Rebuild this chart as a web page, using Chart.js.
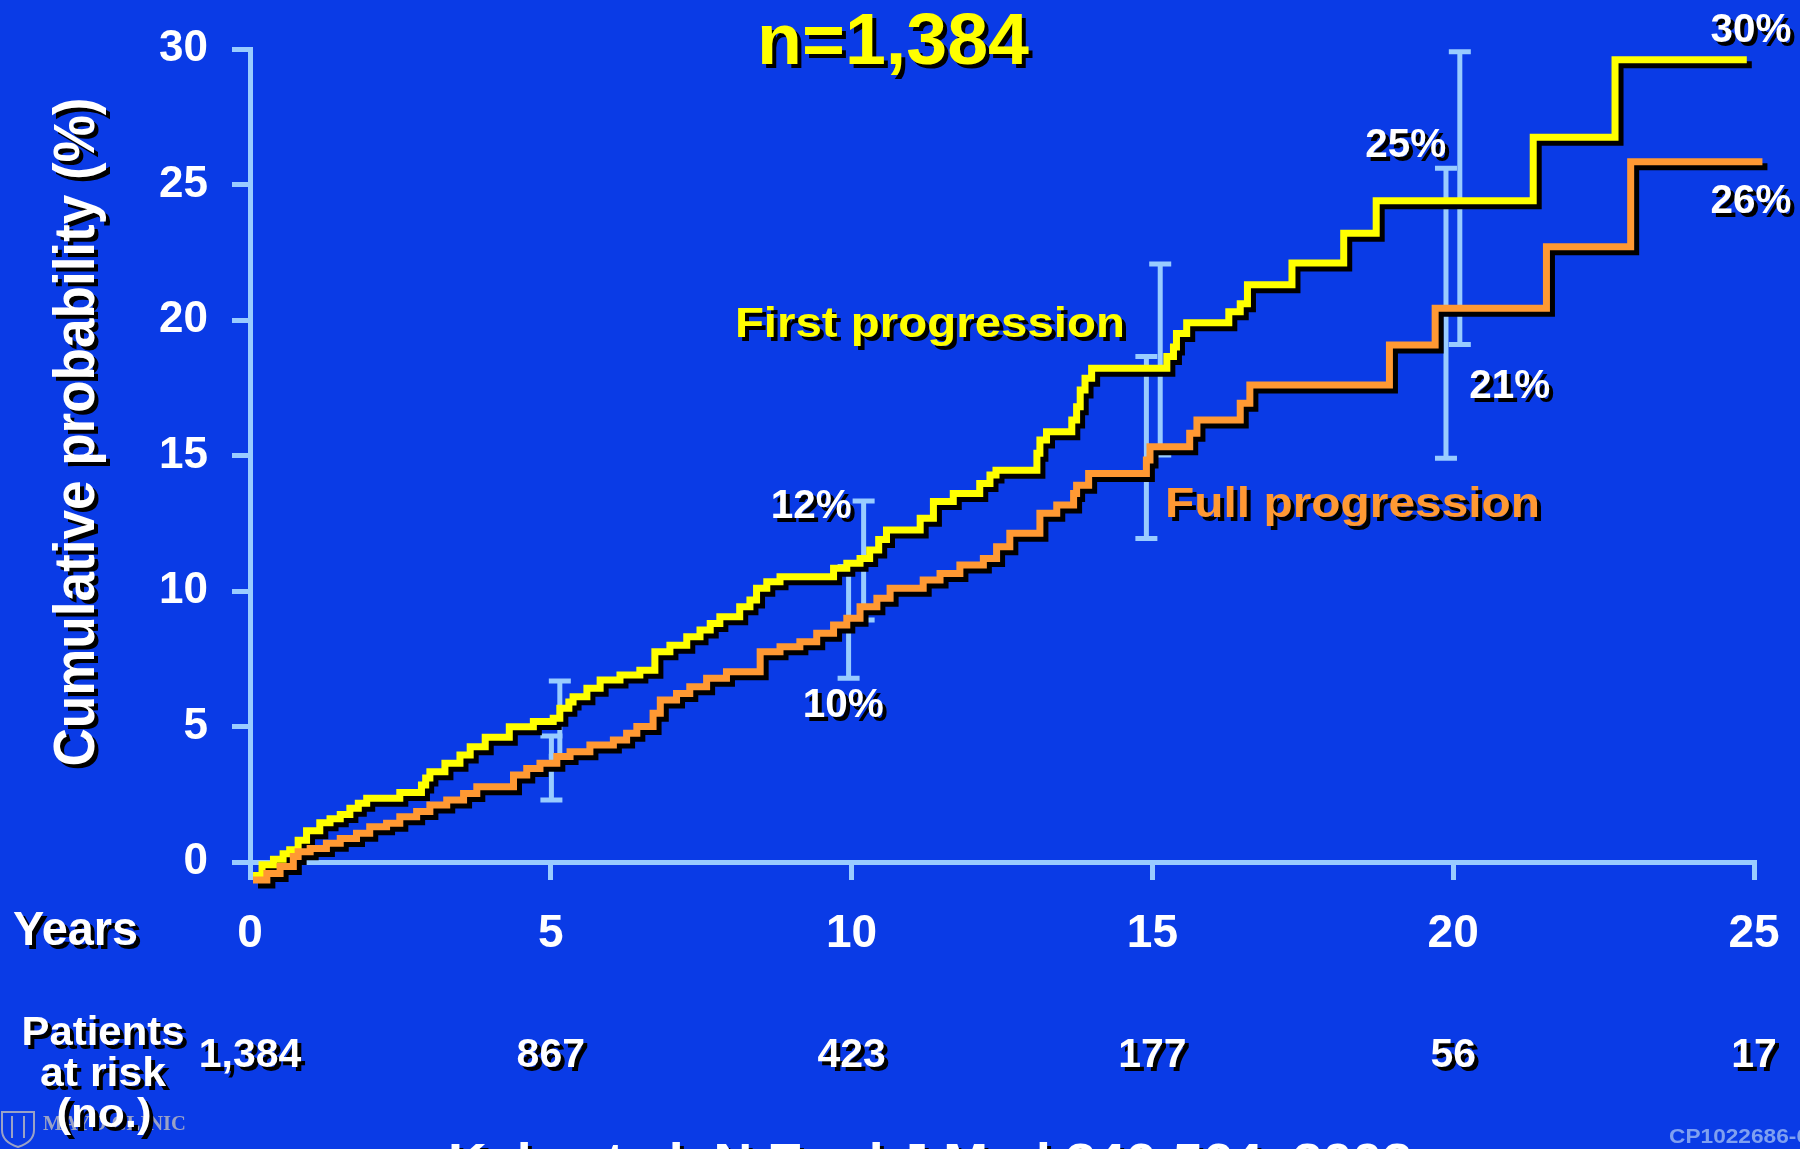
<!DOCTYPE html>
<html><head><meta charset="utf-8">
<script src="https://cdn.jsdelivr.net/npm/chart.js@4/dist/chart.umd.min.js"></script>
<style>html,body{margin:0;padding:0;background:#0A3BE6;overflow:hidden}#wrap{width:1800px;height:1149px;position:relative}</style>
</head><body><div id="wrap"><canvas id="c" width="1800" height="1149"></canvas></div>
<script>
// ---- data ----
const firstYears = [0.05,0.2,0.39,0.55,0.66,0.8,0.94,1.16,1.33,1.5,1.66,1.8,1.94,2.49,2.85,2.92,2.99,3.24,3.49,3.66,3.91,4.31,4.71,5.04,5.15,5.3,5.37,5.6,5.82,6.15,6.48,6.73,6.98,7.26,7.48,7.65,7.81,8.14,8.31,8.42,8.59,8.81,9.7,9.92,10.14,10.3,10.45,10.58,11.14,11.36,11.69,12.13,12.3,12.4,13.08,13.13,13.24,13.66,13.74,13.8,13.88,13.99,15.24,15.35,15.4,15.57,16.27,16.46,16.58,17.32,18.18,18.72,21.33,22.69,24.88];
const firstPct   = [-0.5,-0.1,0.1,0.3,0.45,0.8,1.15,1.45,1.6,1.75,1.98,2.17,2.35,2.56,2.84,3.1,3.33,3.64,3.95,4.25,4.6,4.99,5.18,5.3,5.67,5.9,6.1,6.41,6.72,6.9,7.08,7.76,8.0,8.31,8.56,8.8,9.05,9.42,9.67,10.1,10.34,10.53,10.84,11.02,11.2,11.51,11.9,12.25,12.68,13.3,13.6,13.97,14.28,14.46,15.08,15.57,15.88,16.31,16.8,17.42,17.85,18.22,18.65,19.0,19.5,19.9,20.3,20.6,21.3,22.1,23.2,24.4,26.74,29.6,29.6];
const fullYears  = [0.05,0.28,0.5,0.72,0.8,1.0,1.27,1.5,1.77,1.99,2.27,2.49,2.77,2.99,3.27,3.55,3.77,4.38,4.6,4.82,5.1,5.32,5.65,6.04,6.26,6.43,6.7,6.82,7.09,7.31,7.59,7.92,8.48,8.81,9.14,9.42,9.7,9.92,10.14,10.42,10.64,11.19,11.47,11.8,12.19,12.41,12.63,13.13,13.41,13.69,13.74,13.94,14.9,14.96,15.62,15.74,16.46,16.62,18.94,19.7,21.55,22.95,25.14];
const fullPct    = [-0.66,-0.42,-0.17,0.2,0.38,0.5,0.69,0.87,1.06,1.3,1.43,1.67,1.86,2.1,2.29,2.53,2.78,3.21,3.45,3.64,3.89,4.07,4.32,4.5,4.75,5.0,5.49,5.98,6.22,6.47,6.78,7.02,7.76,7.94,8.13,8.44,8.75,8.99,9.42,9.73,10.1,10.41,10.65,10.96,11.2,11.63,12.13,12.87,13.17,13.6,13.9,14.34,14.83,15.32,15.82,16.31,16.93,17.6,19.08,20.43,22.7,25.84,25.84];
const ciFirstYears = [5.15, 10.2, 15.13, 20.11];
const ciFirstLow   = [3.9, 8.93, 15.02, 19.1];
const ciFirstHigh  = [6.68, 13.32, 22.07, 29.9];
const ciFullYears  = [5.01, 9.95, 14.9, 19.88];
const ciFullLow    = [2.29, 6.78, 11.94, 14.9];
const ciFullHigh   = [4.65, 10.9, 18.65, 25.6];
const xTickValues = [0,5,10,15,20,25];
const yTickValues = [0,5,10,15,20,25,30];
const atRiskYears  = [0,5,10,15,20,25];
const atRiskCounts = ['1,384','867','423','177','56','17'];
const pctLabels = ['12%','10%','25%','21%','30%','26%'];
const pctLabelYears = [9.33, 9.86, 19.21, 20.94, 24.95, 24.95];
const pctLabelValues = [12.69, 5.35, 26.01, 17.12, 30.26, 23.95];
const seriesNames = ['First progression','Full progression'];

const BG = '#0A3BE6', AXIS = '#99CCFF', YEL = '#FFFF00', ORA = '#FF9933';
const FONT = '"Liberation Sans", Arial, sans-serif';

function txt(ctx, s, x, y, o) {
  ctx.save();
  ctx.font = 'bold ' + o.size + 'px ' + (o.family || FONT);
  const w = ctx.measureText(s).width;
  const sx = o.width ? o.width / w : 1;
  ctx.translate(x, y);
  if (o.rot) ctx.rotate(o.rot);
  ctx.scale(sx, 1);
  ctx.textAlign = o.align || 'left';
  ctx.textBaseline = 'alphabetic';
  if (o.shadow) { ctx.shadowColor = '#000'; ctx.shadowOffsetX = 4; ctx.shadowOffsetY = 4; ctx.shadowBlur = 0; }
  ctx.fillStyle = o.color;
  ctx.fillText(s, 0, 0);
  ctx.restore();
}

const bgPlugin = {
  id: 'bg',
  beforeDraw(chart) {
    const ctx = chart.ctx; ctx.save(); ctx.fillStyle = BG; ctx.fillRect(0,0,chart.width,chart.height); ctx.restore();
  }
};

const shadowPlugin = {
  id: 'lineShadow',
  beforeDatasetDraw(chart) {
    const ctx = chart.ctx; ctx.save();
    ctx.shadowColor = '#000'; ctx.shadowOffsetX = 5; ctx.shadowOffsetY = 5; ctx.shadowBlur = 0;
  },
  afterDatasetDraw(chart) { chart.ctx.restore(); }
};

const errPlugin = {
  id: 'errBars',
  beforeDatasetsDraw(chart) {
    const ctx = chart.ctx, xs = chart.scales.x, ys = chart.scales.y;
    ctx.save();
    ctx.strokeStyle = AXIS; ctx.lineWidth = 5; ctx.lineCap = 'butt';
    const draw = (yrs, lo, hi) => {
      yrs.forEach((t, i) => {
        const x = xs.getPixelForValue(t), y1 = ys.getPixelForValue(lo[i]), y2 = ys.getPixelForValue(hi[i]);
        ctx.beginPath();
        ctx.moveTo(x, y1); ctx.lineTo(x, y2);
        ctx.moveTo(x - 11, y1); ctx.lineTo(x + 11, y1);
        ctx.moveTo(x - 11, y2); ctx.lineTo(x + 11, y2);
        ctx.stroke();
      });
    };
    draw(ciFullYears, ciFullLow, ciFullHigh);
    draw(ciFirstYears, ciFirstLow, ciFirstHigh);
    ctx.restore();
  }
};

const textPlugin = {
  id: 'texts',
  afterDraw(chart) {
    const ctx = chart.ctx, xs = chart.scales.x, ys = chart.scales.y;
    const X = v => xs.getPixelForValue(v), Y = v => ys.getPixelForValue(v);
    // Mayo logo (faint)
    ctx.save();
    ctx.strokeStyle = '#9AA2C6'; ctx.lineWidth = 2;
    ctx.beginPath();
    ctx.moveTo(2, 1112); ctx.lineTo(34, 1112); ctx.lineTo(34, 1130);
    ctx.quadraticCurveTo(34, 1142, 18, 1147); ctx.quadraticCurveTo(2, 1142, 2, 1130); ctx.closePath();
    ctx.moveTo(12, 1116); ctx.lineTo(12, 1138); ctx.moveTo(24, 1116); ctx.lineTo(24, 1138);
    ctx.stroke();
    ctx.restore();
    txt(ctx, 'MAYO CLINIC', 43, 1130, {size: 22, color: '#9AA2C6', family: '"Liberation Serif", serif', width: 143});
    // title
    txt(ctx, 'n=1,384', 893, 64, {size: 72, color: YEL, align: 'center', width: 272, shadow: true});
    // series labels
    txt(ctx, seriesNames[0], X(8.06), Y(19.37), {size: 43, color: YEL, width: 390, shadow: true});
    txt(ctx, seriesNames[1], X(15.21), Y(12.73), {size: 43, color: ORA, width: 375, shadow: true});
    // percent labels
    pctLabels.forEach((s, i) => txt(ctx, s, X(pctLabelYears[i]), Y(pctLabelValues[i]), {size: 40, color: '#FFFFFF', align: 'center', width: 81, shadow: true}));
    // y title
    txt(ctx, 'Cumulative probability (%)', 94, 432, {size: 57, color: '#FFFFFF', align: 'center', rot: -Math.PI / 2, width: 669, shadow: true});
    // Years
    txt(ctx, 'Years', 13, 945, {size: 48, color: '#FFFFFF', width: 125, shadow: true});
    // at risk
    txt(ctx, 'Patients', 103, 1045, {size: 41, color: '#FFFFFF', align: 'center', width: 163, shadow: true});
    txt(ctx, 'at risk', 103, 1086, {size: 41, color: '#FFFFFF', align: 'center', width: 126, shadow: true});
    txt(ctx, '(no.)', 104, 1127, {size: 41, color: '#FFFFFF', align: 'center', width: 95, shadow: true});
    atRiskYears.forEach((t, i) => txt(ctx, atRiskCounts[i], X(t), 1067, {size: 41, color: '#FFFFFF', align: 'center', shadow: true}));
    // citation (cut at the bottom edge)
    txt(ctx, 'Kyle et al. N Engl J Med 346:564, 2002', 448, 1177, {size: 48, color: '#FFFFFF', width: 964, shadow: true});
    txt(ctx, 'CP1022686-6', 1669, 1143, {size: 20, color: '#7FA0F0', width: 140});
  }
};

const toPts = (xs, ys) => xs.map((x, i) => ({x: x, y: ys[i]}));

new Chart(document.getElementById('c'), {
  type: 'line',
  data: {
    datasets: [
      {label: seriesNames[1], data: toPts(fullYears, fullPct), borderColor: ORA, borderWidth: 7, stepped: 'before', pointRadius: 0, clip: false, order: 1, borderJoinStyle: 'miter'},
      {label: seriesNames[0], data: toPts(firstYears, firstPct), borderColor: YEL, borderWidth: 7, stepped: 'before', pointRadius: 0, clip: false, order: 2, borderJoinStyle: 'miter'}
    ]
  },
  options: {
    responsive: false, animation: false, devicePixelRatio: 1,
    layout: {padding: {top: 49, right: 46, left: 0, bottom: 0}},
    plugins: {legend: {display: false}, tooltip: {enabled: false}},
    scales: {
      x: {
        type: 'linear', min: 0, max: 25,
        afterBuildTicks: s => { s.ticks = xTickValues.map(v => ({value: v})); },
        afterFit: s => { s.height = 287; s.paddingLeft = 0; s.paddingRight = 0; },
        border: {display: true, color: AXIS, width: 5},
        grid: {drawOnChartArea: false, drawTicks: true, tickLength: 18, color: AXIS, lineWidth: 5},
        ticks: {color: '#FFFFFF', padding: 27, maxRotation: 0, font: {family: FONT, size: 46, weight: 'bold'}}
      },
      y: {
        type: 'linear', min: 0, max: 30,
        afterBuildTicks: s => { s.ticks = yTickValues.map(v => ({value: v})); },
        afterFit: s => { s.width = 250; s.paddingTop = 0; s.paddingBottom = 0; },
        border: {display: true, color: AXIS, width: 5},
        grid: {drawOnChartArea: false, drawTicks: true, tickLength: 18, color: AXIS, lineWidth: 5},
        ticks: {color: '#FFFFFF', padding: 24, font: {family: FONT, size: 44, weight: 'bold'}}
      }
    }
  },
  plugins: [bgPlugin, shadowPlugin, errPlugin, textPlugin]
});
</script>
</body></html>
